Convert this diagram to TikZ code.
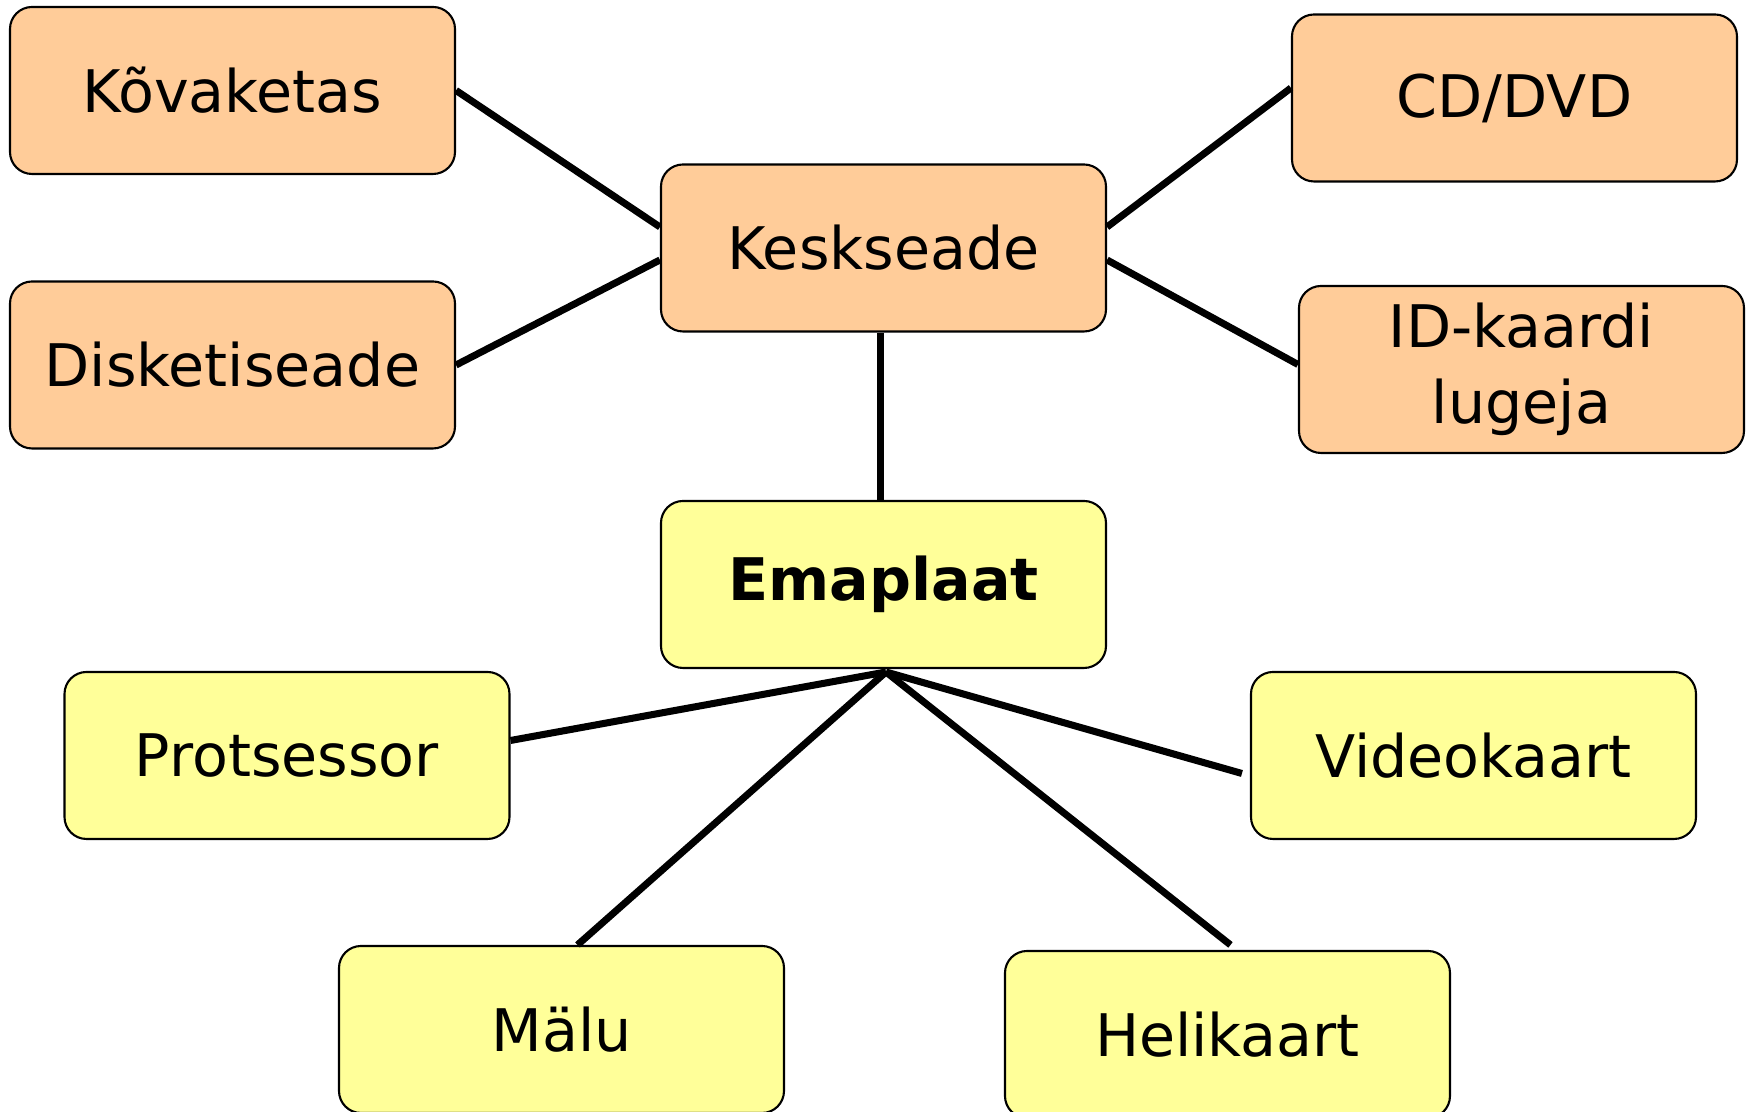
\documentclass[tikz,border=0pt]{standalone}
\usepackage{fontspec}
\setmainfont{DejaVu Sans}
\usepackage{tikz}

\definecolor{peach}{RGB}{255,204,153}
\definecolor{lightyellow}{RGB}{255,255,153}

\tikzset{
  part/.style={draw=black, line width=0.6pt, rounded corners=0.22cm,
    minimum width=4.45cm, minimum height=1.67cm, inner sep=0pt,
    align=center, font=\fontsize{16.7}{21.5}\selectfont},
  outer/.style={part, fill=peach},
  inner/.style={part, fill=lightyellow},
  link/.style={black, line width=2pt}
}

\begin{document}
\begin{tikzpicture}[line width=1pt]
\useasboundingbox (0,0) rectangle (17.54,11.12) ;
\node[outer] (kv) at (2.325,10.215) {Kõvaketas} ;
\node[outer] (dk) at (2.325,7.47) {Disketiseade} ;
\node[outer] (kk) at (8.835,8.64) {Keskseade} ;
\node[outer] (cd) at (15.145,10.14) {CD/DVD} ;
\node[outer] (id) at (15.215,7.425) {ID-kaardi\\lugeja} ;
\node[inner] (em) at (8.835,5.275) {\textbf{Emaplaat}} ;
\node[inner] (pr) at (2.87,3.565) {Protsessor} ;
\node[inner] (vk) at (14.735,3.565) {Videokaart} ;
\node[inner] (ml) at (5.615,0.825) {Mälu} ;
\node[inner] (hk) at (12.275,0.775) {Helikaart} ;
\coordinate (hub) at (8.86,4.40) ;
\draw[link] (kv.east) -- ([yshift=2.1mm]kk.west) ;
\draw[link] (dk.east) -- ([yshift=-1.2mm]kk.west) ;
\draw[link] ([yshift=2.1mm]kk.east) -- ([yshift=1mm]cd.west) ;
\draw[link] ([yshift=-1.2mm]kk.east) -- ([yshift=0.5mm]id.west) ;
\draw[link] ([xshift=-0.3mm]kk.south) -- ([xshift=-0.3mm]em.north) ;
\draw[link] (hub) -- ([yshift=1.5mm]pr.east) ;
\draw[link] (hub) -- ([xshift=1.6mm]ml.north) ;
\draw[link] (hub) -- ([xshift=0.3mm,yshift=0.5mm]hk.north) ;
\draw[link] (hub) -- ([xshift=-0.8mm,yshift=-1.8mm]vk.west) ;
\end{tikzpicture}
\end{document}
